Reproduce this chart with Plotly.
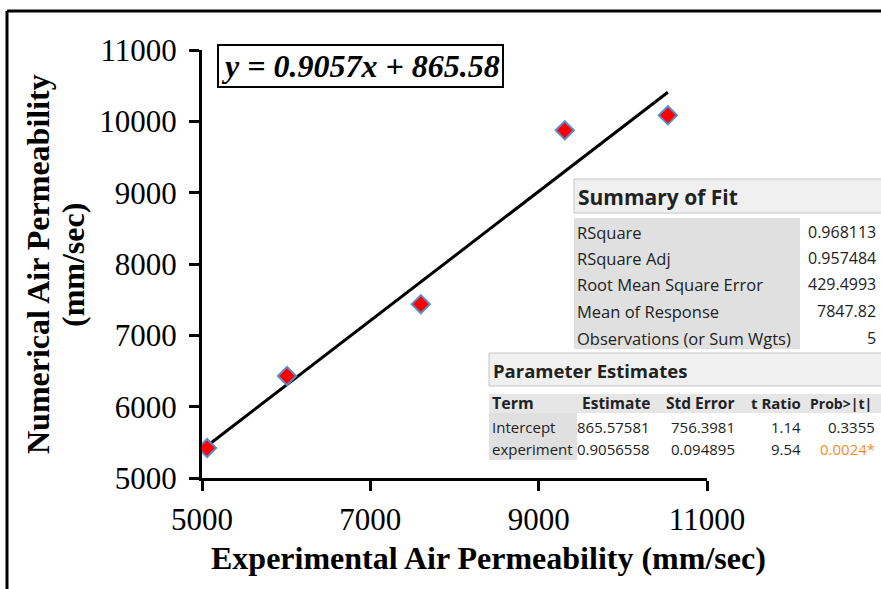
import plotly.graph_objects as go

# ---- data ----
experimental = [5060, 6010, 7600, 9310, 10535]
numerical = [5420, 6430, 7437, 9874, 10084]
slope = 0.9057
intercept = 865.58
x_ticks = [5000, 7000, 9000, 11000]
x_tick_labels = ["5000", "7000", "9000", "11000"]
y_ticks = [5000, 6000, 7000, 8000, 9000, 10000, 11000]
y_tick_labels = ["5000", "6000", "7000", "8000", "9000", "10000", "11000"]

fit_labels = ["RSquare", "RSquare Adj", "Root Mean Square Error", "Mean of Response",
              "Observations (or Sum Wgts)"]
fit_values = ["0.968113", "0.957484", "429.4993", "7847.82", "5"]

param_headers = ["Term", "Estimate", "Std Error", "t Ratio", "Prob>|t|"]
param_terms = ["Intercept", "experiment"]
param_estimate = ["865.57581", "0.9056558"]
param_stderr = ["756.3981", "0.094895"]
param_tratio = ["1.14", "9.54"]
param_prob = ["0.3355", "0.0024*"]

W, H = 881, 589
L, R, T, B = 202, 707, 50, 478  # plot area pixel bounds


def px(xp):
    return (xp - L) / (R - L)


def py(yp):
    return (B - yp) / (B - T)


fig = go.Figure()

x_line = [min(experimental), max(experimental)]
y_line = [slope * v + intercept for v in x_line]
fig.add_trace(go.Scatter(x=x_line, y=y_line, mode="lines",
                         line=dict(color="black", width=3), hoverinfo="skip"))
fig.add_trace(go.Scatter(x=experimental, y=numerical, mode="markers",
                         marker=dict(symbol="diamond", size=14, color="#ff0000",
                                     line=dict(color="#5b8bc9", width=2))))

serif = "Liberation Serif, Times New Roman, serif"
sans = "Open Sans, Noto Sans, sans-serif"
tcol = "#222222"

shapes = []
ann = []

# outer frame (top and left edges)
shapes.append(dict(type="line", xref="paper", yref="paper", x0=px(7), x1=px(W + 5),
                   y0=py(11), y1=py(11), line=dict(color="black", width=3)))
shapes.append(dict(type="line", xref="paper", yref="paper", x0=px(7), x1=px(7),
                   y0=py(11), y1=py(H + 5), line=dict(color="black", width=3)))

# ---- Summary of Fit ----
shapes.append(dict(type="rect", xref="paper", yref="paper", x0=px(574), x1=px(W + 5),
                   y0=py(179), y1=py(213), fillcolor="#f0f0f0",
                   line=dict(color="#c4c4c4", width=1)))
shapes.append(dict(type="rect", xref="paper", yref="paper", x0=px(574), x1=px(800),
                   y0=py(218), y1=py(349), fillcolor="#e0e0e0", line=dict(width=0)))
ann.append(dict(text="<b>Summary of Fit</b>", x=px(576), y=py(197), xanchor="left",
                yanchor="middle", font=dict(family=sans, size=21, color=tcol)))
row_y = [232, 258, 284, 311, 338]
for lab, val, yy in zip(fit_labels, fit_values, row_y):
    ann.append(dict(text=lab, x=px(575), y=py(yy), xanchor="left", yanchor="middle",
                    font=dict(family=sans, size=16.5, color=tcol)))
    ann.append(dict(text=val, x=px(878), y=py(yy), xanchor="right", yanchor="middle",
                    font=dict(family=sans, size=16, color=tcol)))

# ---- Parameter Estimates ----
shapes.append(dict(type="rect", xref="paper", yref="paper", x0=px(489), x1=px(W + 5),
                   y0=py(353), y1=py(386), fillcolor="#f0f0f0",
                   line=dict(color="#c4c4c4", width=1)))
shapes.append(dict(type="rect", xref="paper", yref="paper", x0=px(489), x1=px(W + 5),
                   y0=py(394), y1=py(413), fillcolor="#e6e6e6", line=dict(width=0)))
shapes.append(dict(type="rect", xref="paper", yref="paper", x0=px(489), x1=px(577),
                   y0=py(413), y1=py(460), fillcolor="#e0e0e0", line=dict(width=0)))
ann.append(dict(text="<b>Parameter Estimates</b>", x=px(491), y=py(370), xanchor="left",
                yanchor="middle", font=dict(family=sans, size=18.5, color=tcol)))
col_right = [652, 737, 803, 874]
hdr_sizes = [15.5, 15.5, 15, 14]
hy = 403
ann.append(dict(text="<b>" + param_headers[0] + "</b>", x=px(490), y=py(hy), xanchor="left",
                yanchor="middle", font=dict(family=sans, size=16, color=tcol)))
for h, cx, hs in zip(param_headers[1:], col_right, hdr_sizes):
    ann.append(dict(text="<b>" + h + "</b>", x=px(cx), y=py(hy), xanchor="right",
                    yanchor="middle", font=dict(family=sans, size=hs, color=tcol)))
p_rows_y = [427, 449]
for i, yy in enumerate(p_rows_y):
    ann.append(dict(text=param_terms[i], x=px(490), y=py(yy), xanchor="left", yanchor="middle",
                    font=dict(family=sans, size=15, color=tcol)))
    vals = [param_estimate[i], param_stderr[i], param_tratio[i], param_prob[i]]
    for j, (v, cx) in enumerate(zip(vals, col_right)):
        col = "#f0902a" if (j == 3 and v.endswith("*")) else tcol
        ann.append(dict(text=v, x=px(cx + (3 if j == 3 else 0)), y=py(yy), xanchor="right",
                        yanchor="middle", font=dict(family=sans, size=15, color=col)))

# ---- equation box ----
ann.append(dict(text="<b><i>y = %.4fx + %.2f</i></b>" % (slope, intercept),
                x=px(360), y=py(66), xanchor="center", yanchor="middle",
                font=dict(family=serif, size=32, color="black"),
                bordercolor="black", borderwidth=2, borderpad=2, bgcolor="white"))

# ---- axis titles ----
ann.append(dict(text="<b>Experimental Air Permeability (mm/sec)</b>", x=px(488), y=py(558),
                xanchor="center", yanchor="middle",
                font=dict(family=serif, size=32, color="black")))
ann.append(dict(text="<b>Numerical Air Permeability</b>", x=px(38), y=py(264),
                xanchor="center", yanchor="middle", textangle=-90,
                font=dict(family=serif, size=32, color="black")))
ann.append(dict(text="<b>(mm/sec)</b>", x=px(73), y=py(265),
                xanchor="center", yanchor="middle", textangle=-90,
                font=dict(family=serif, size=32, color="black")))

for a in ann:
    a.setdefault("showarrow", False)
    a["xref"] = "paper"
    a["yref"] = "paper"

fig.update_layout(
    width=W, height=H,
    margin=dict(l=L, r=W - R, t=T, b=H - B),
    paper_bgcolor="white", plot_bgcolor="white",
    showlegend=False,
    shapes=shapes, annotations=ann,
    xaxis=dict(range=[5000, 11000], tickvals=x_ticks, ticktext=x_tick_labels,
               showline=True, linecolor="black",
               linewidth=3, ticks="outside", ticklen=10, tickwidth=3, tickcolor="black",
               showgrid=False, zeroline=False, ticklabelstandoff=2,
               tickfont=dict(family=serif, size=31, color="black")),
    yaxis=dict(range=[5000, 11000], tickvals=y_ticks, ticktext=y_tick_labels,
               showline=True, linecolor="black",
               linewidth=3, ticks="outside", ticklen=10, tickwidth=3, tickcolor="black",
               showgrid=False, zeroline=False, ticklabelstandoff=6,
               tickfont=dict(family=serif, size=31, color="black")),
)

fig.write_html("out.html", config={"displayModeBar": False},
               post_script="document.body.style.margin='0';document.body.style.overflow='hidden';")
